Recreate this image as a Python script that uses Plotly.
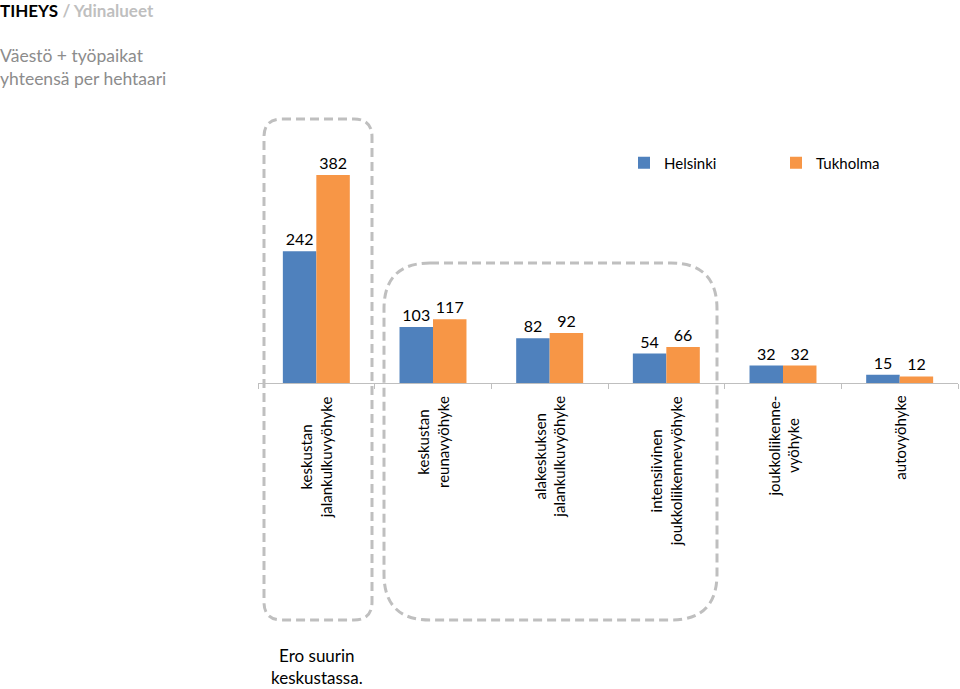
import plotly.graph_objects as go

categories = [
    "keskustan<br>jalankulkuvyöhyke",
    "keskustan<br>reunavyöhyke",
    "alakeskuksen<br>jalankulkuvyöhyke",
    "intensiivinen<br>joukkoliikennevyöhyke",
    "joukkoliikenne-<br>vyöhyke",
    "autovyöhyke",
]
helsinki = [242, 103, 82, 54, 32, 15]
tukholma = [382, 117, 92, 66, 32, 12]
series_names = ["Helsinki", "Tukholma"]

W, H = 960, 689
ML, MR, MT, MB = 258, 2, 100, 306
PW, PH = W - ML - MR, H - MT - MB
BASE = H - MB


def px_x(px):
    return (px - ML) / PW


def px_y(py):
    return (BASE - py) / PH


FONT = "Lato"
BLUE = "#4f81bd"
ORANGE = "#f79646"

fig = go.Figure()
for name, vals, col in [(series_names[0], helsinki, BLUE), (series_names[1], tukholma, ORANGE)]:
    fig.add_trace(go.Bar(
        x=categories, y=vals, name=name, marker_color=col, marker_line_width=0,
        text=[str(v) for v in vals], textposition="outside",
        textfont=dict(family=FONT, size=16, color="#000000"),
        cliponaxis=False,
    ))

ymax = max(tukholma) * PH / 208.0

fig.update_layout(
    width=W, height=H,
    margin=dict(l=ML, r=MR, t=MT, b=MB, autoexpand=False),
    paper_bgcolor="white", plot_bgcolor="white",
    barmode="group", bargap=0.426, bargroupgap=0,
    font=dict(family=FONT, color="#000000"),
    showlegend=True,
    legend=dict(
        orientation="h", x=px_x(624), y=px_y(163), xanchor="left", yanchor="middle",
        font=dict(family=FONT, size=15, color="#000000"),
        entrywidth=107, entrywidthmode="pixels", bgcolor="rgba(0,0,0,0)",
        traceorder="normal",
    ),
    xaxis=dict(
        type="category", showline=True, linecolor="#bfbfbf", linewidth=1,
        ticks="outside", tickson="boundaries", ticklen=5, tickcolor="#bfbfbf",
        showticklabels=False, showgrid=False, zeroline=False,
    ),
    yaxis=dict(visible=False, range=[0, ymax], showgrid=False, zeroline=False),
)

# Category labels, rotated and centred
for c in categories:
    fig.add_annotation(
        x=c, xref="x", y=px_y(394), yref="paper", yanchor="top", xanchor="center",
        text=c, textangle=-90, showarrow=False, align="center",
        font=dict(family=FONT, size=15, color="#000000"),
    )

# Title and subtitle
fig.add_annotation(
    x=px_x(-2), y=px_y(-2), xref="paper", yref="paper", xanchor="left", yanchor="top",
    text="<b>TIHEYS</b> <b><span style='color:#bfbfbf'>/ Ydinalueet</span></b>",
    showarrow=False, align="left", font=dict(family=FONT, size=17, color="#000000"),
)
fig.add_annotation(
    x=px_x(-2), y=px_y(43), xref="paper", yref="paper", xanchor="left", yanchor="top",
    text="Väestö + työpaikat<br>yhteensä per hehtaari",
    showarrow=False, align="left", font=dict(family=FONT, size=17.5, color="#8c8c8c"),
)
fig.add_annotation(
    x=px_x(317), y=px_y(643), xref="paper", yref="paper", xanchor="center", yanchor="top",
    text="Ero suurin<br>keskustassa.",
    showarrow=False, align="center", font=dict(family=FONT, size=17, color="#000000"),
)


def rounded_rect(x0, y0, x1, y1, r):
    X0, X1 = px_x(x0), px_x(x1)
    Y0, Y1 = px_y(y0), px_y(y1)  # Y0 top, Y1 bottom
    rx, ry = r / PW, r / PH
    return (
        f"M {X0 + rx} {Y0} L {X1 - rx} {Y0} Q {X1} {Y0} {X1} {Y0 - ry} "
        f"L {X1} {Y1 + ry} Q {X1} {Y1} {X1 - rx} {Y1} "
        f"L {X0 + rx} {Y1} Q {X0} {Y1} {X0} {Y1 + ry} "
        f"L {X0} {Y0 - ry} Q {X0} {Y0} {X0 + rx} {Y0} Z"
    )


for (x0, y0, x1, y1, r) in [(264, 119, 372, 620, 18), (384, 263, 717, 620, 46)]:
    fig.add_shape(
        type="path", xref="paper", yref="paper", path=rounded_rect(x0, y0, x1, y1, r),
        line=dict(color="#bfbfbf", width=3, dash="9px,5px"), fillcolor="rgba(0,0,0,0)",
        layer="above",
    )

fig.write_html(
    "out.html",
    config={"displayModeBar": False},
    post_script="document.body.style.margin='0';document.body.style.padding='0';"
                "document.body.style.overflow='hidden';",
)
